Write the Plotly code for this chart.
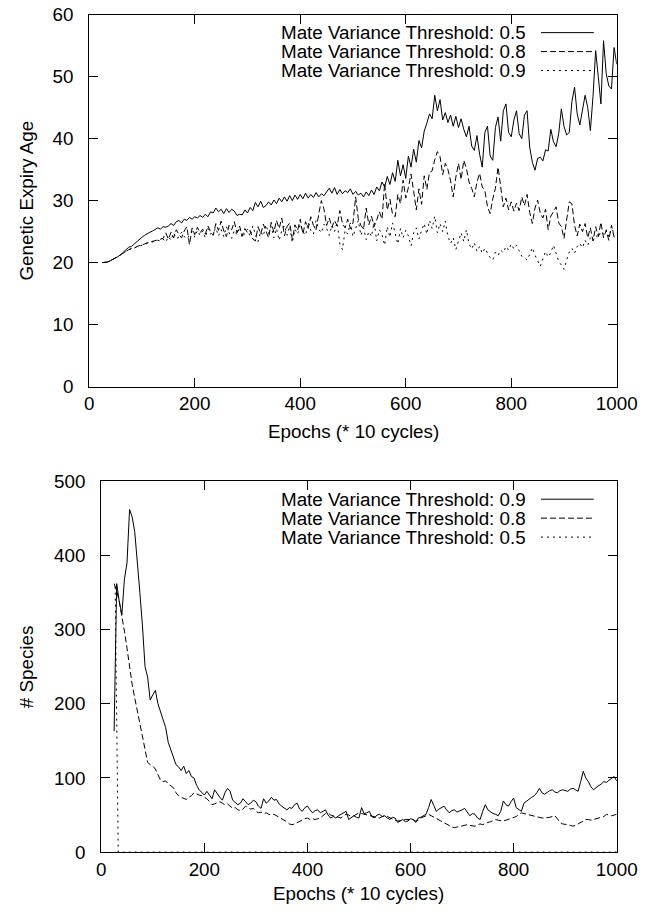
import plotly.graph_objects as go

# ---------------- data ----------------
epochs = list(range(25, 1001, 5))

# Top panel: Genetic Expiry Age
age_t05 = [
    20.0, 20.0, 20.1, 20.3, 20.5, 20.7, 21.0, 21.3, 21.7, 22.1, 22.5, 22.6, 23.0, 23.4, 23.8, 24.1, 24.4, 24.7, 24.9, 25.1,
    25.3, 25.6, 25.4, 25.8, 25.7, 25.9, 26.3, 26.0, 26.6, 26.8, 26.4, 27.0, 26.8, 27.3, 27.0, 27.4, 27.2, 27.6, 27.3, 27.8,
    27.4, 28.2, 28.0, 28.8, 28.2, 28.6, 27.9, 28.7, 28.1, 28.6, 28.3, 27.6, 27.8, 27.7, 28.5, 28.0, 28.9, 28.4, 29.7, 29.0,
    29.9, 28.9, 29.2, 29.8, 29.3, 30.1, 29.5, 30.4, 29.8, 30.6, 29.9, 30.8, 30.0, 30.9, 30.2, 31.0, 30.3, 31.2, 30.4, 31.0,
    30.5, 31.3, 30.6, 31.1, 30.8, 31.5, 32.0, 31.2, 32.1, 31.0, 31.8, 31.1, 31.6, 31.3, 31.9, 31.0, 31.5, 30.9, 31.2, 30.6,
    31.4, 30.8, 31.7, 31.0, 32.2, 31.6, 33.0, 32.2, 33.9, 32.6, 34.5, 33.1, 36.5, 34.0, 35.8, 33.6, 37.2, 35.4, 38.3, 36.2,
    39.7, 38.5, 41.2, 42.5, 44.0, 43.2, 47.0, 44.5, 46.3, 43.0, 44.2, 42.6, 43.8, 42.0, 43.6, 41.8, 43.2, 41.5, 40.3, 42.0,
    38.8, 38.1, 40.5, 37.5, 35.4, 41.0, 42.0, 37.2, 36.5, 41.8, 43.5, 39.6, 44.5, 45.6, 41.0, 40.3, 43.0, 44.5, 40.8, 40.0,
    43.8, 44.5, 38.6, 36.2, 34.9, 36.8, 37.0, 36.4, 38.2, 38.0, 41.5, 39.5, 38.7, 40.8, 44.8, 42.0, 40.6, 41.0, 46.0, 48.3,
    44.0, 42.2, 44.5, 47.0, 45.0, 41.3, 46.8, 54.2, 50.0, 45.6, 55.8, 50.5, 48.5, 48.0, 54.7, 52.0,
]
age_t08 = [
    20.0, 20.0, 20.1, 20.3, 20.5, 20.7, 21.0, 21.3, 21.6, 21.9, 22.1, 22.3, 22.3, 22.6, 22.7, 22.9, 23.0, 23.2, 23.3, 23.5,
    23.6, 23.7, 23.7, 23.9, 24.8, 23.8, 24.9, 24.0, 25.3, 24.5, 24.0, 25.1, 25.8, 22.9, 25.6, 24.5, 25.7, 24.8, 25.4, 24.6,
    25.9, 25.0, 24.4, 26.3, 25.2, 26.7, 25.1, 24.2, 26.0, 25.3, 26.6, 24.8, 25.9, 24.3, 25.5, 24.8, 25.2, 23.8, 23.5, 25.8,
    24.6, 26.2, 25.1, 24.0, 26.5, 24.9, 26.8, 25.5, 27.2, 24.3, 25.8, 26.4, 23.7, 26.1, 25.2, 27.0, 24.6, 26.6, 25.5, 27.4,
    26.0, 25.3, 27.8, 30.0, 28.6, 26.0, 27.2, 25.7, 26.8, 25.9, 28.4, 26.3, 25.6, 27.0, 25.5, 26.4, 30.6, 27.1, 26.0, 25.4,
    28.8, 26.1, 27.5, 25.8, 26.9, 28.2, 27.0, 32.8, 28.5, 30.2, 27.8, 27.4, 31.0, 29.5, 33.3, 30.4, 32.1, 34.3, 31.5, 28.5,
    31.9, 29.4, 34.0, 31.8, 34.5, 34.8, 36.6, 37.9, 37.1, 34.2, 36.0, 35.0, 33.2, 30.6, 33.8, 36.0, 33.4, 36.5, 35.2, 33.0,
    32.0, 30.6, 33.0, 34.4, 32.2, 31.6, 29.0, 27.9, 30.3, 32.0, 35.4, 32.6, 29.0, 30.4, 28.5, 29.8, 28.3, 29.6, 28.4, 30.6,
    29.2, 31.0, 28.1, 26.3, 28.8, 30.1, 28.0, 27.2, 28.6, 25.3, 27.5, 28.2, 29.0, 26.4, 25.8, 23.9, 26.5, 29.8, 29.5, 26.0,
    24.3, 26.2, 25.0, 26.3, 24.0, 25.6, 23.5, 25.8, 24.2, 26.5, 24.0, 25.2, 23.6, 26.0, 24.1, 23.8,
]
age_t09 = [
    20.0, 20.0, 20.1, 20.3, 20.5, 20.7, 21.0, 21.3, 21.6, 21.9, 22.1, 22.2, 22.4, 22.5, 22.7, 22.8, 23.0, 23.1, 23.2, 23.3,
    23.4, 23.6, 23.5, 23.8, 23.3, 24.2, 23.6, 24.8, 23.9, 24.1, 24.9, 24.2, 23.8, 24.5, 25.0, 24.1, 25.2, 24.4, 25.1, 24.0,
    25.5, 24.6, 24.9, 25.6, 24.3, 25.3, 24.2, 25.8, 24.7, 23.9, 25.2, 24.5, 25.7, 24.0, 24.8, 25.4, 24.2, 25.9, 24.5, 23.4,
    25.0, 24.3, 26.1, 24.7, 25.8, 24.0, 25.5, 23.6, 25.2, 26.0, 24.4, 25.9, 23.2, 25.4, 24.6, 26.2, 25.0, 24.4, 26.5, 25.2,
    24.6, 26.8, 25.4, 24.8, 26.2, 25.5, 24.4, 26.0, 25.0, 26.5, 23.0, 22.1, 25.2, 24.6, 26.4, 24.2, 25.5, 26.8, 24.4, 25.6,
    23.7, 25.0, 24.2, 26.5, 23.5, 25.3, 24.5, 22.8, 25.8, 24.1, 26.4, 24.6, 23.0, 25.5, 24.0, 25.2, 24.3, 22.7, 24.8, 25.6,
    23.8, 25.2, 26.3, 24.6, 26.8, 25.5, 27.5, 24.8, 26.3, 25.0, 26.7, 24.2, 23.1, 24.0, 22.1, 23.5, 24.8, 23.4, 25.3, 23.0,
    22.2, 23.2, 21.8, 22.6, 21.5, 22.3, 21.6, 20.8, 20.4, 21.7, 21.2, 22.0, 21.6, 22.6, 22.0, 23.0, 22.2, 22.8, 21.9, 21.0,
    20.8, 20.4, 21.3, 22.4, 21.2, 20.2, 19.4, 20.6, 21.8, 20.9, 21.6, 22.8, 21.5, 20.2, 19.6, 18.9, 20.4, 21.7, 22.3, 21.5,
    22.6, 23.1, 22.4, 23.6, 22.8, 24.0, 23.5, 24.4, 24.0, 25.0, 24.6, 25.3, 24.2, 25.5, 24.8, 24.8,
]

# Bottom panel: # Species
species_t09 = [
    163, 362, 338, 320, 368, 390, 462, 452, 432, 385, 350, 305, 250, 236, 205, 212, 218, 200, 190, 178,
    168, 148, 138, 128, 118, 115, 110, 116, 106, 110, 102, 100, 90, 84, 80, 77, 82, 76, 72, 84,
    78, 74, 70, 80, 86, 82, 70, 67, 64, 66, 72, 68, 64, 66, 70, 68, 62, 59, 72, 66,
    69, 74, 70, 71, 65, 62, 60, 57, 60, 59, 64, 66, 58, 55, 60, 62, 57, 53, 56, 57,
    53, 55, 57, 50, 46, 48, 46, 49, 51, 53, 55, 44, 47, 49, 47, 46, 60, 52, 53, 55,
    48, 46, 50, 51, 48, 49, 46, 44, 47, 46, 40, 42, 44, 41, 42, 45, 44, 40, 46, 47,
    49, 51, 60, 71, 63, 55, 58, 60, 62, 57, 53, 56, 57, 54, 55, 57, 59, 54, 49, 52,
    51, 46, 44, 55, 64, 57, 54, 52, 51, 49, 55, 69, 64, 62, 68, 73, 60, 57, 55, 66,
    69, 72, 74, 76, 80, 86, 80, 78, 81, 83, 84, 81, 80, 83, 84, 83, 82, 85, 86, 84,
    82, 95, 109, 100, 95, 88, 84, 87, 89, 92, 95, 94, 97, 99, 102, 96,
]
species_t08 = [
    362, 352, 338, 320, 298, 275, 250, 226, 208, 190, 174, 158, 135, 121, 118, 116, 112, 104, 97, 95,
    96, 92, 90, 87, 80, 76, 74, 72, 71, 74, 76, 80, 78, 77, 76, 74, 72, 68, 64, 65,
    67, 68, 66, 64, 65, 62, 59, 60, 57, 56, 58, 62, 60, 58, 59, 55, 53, 54, 52, 53,
    51, 50, 51, 49, 48, 46, 44, 41, 38, 37, 38, 40, 42, 43, 45, 46, 44, 45, 44, 45,
    46, 49, 52, 53, 50, 49, 48, 47, 46, 49, 51, 50, 48, 49, 51, 53, 52, 51, 51, 50,
    49, 48, 47, 46, 48, 49, 48, 46, 44, 43, 42, 42, 43, 44, 44, 43, 44, 42, 43, 46,
    47, 49, 51, 49, 47, 46, 44, 42, 39, 37, 35, 34, 33, 34, 35, 35, 37, 37, 36, 36,
    35, 37, 38, 37, 39, 40, 41, 43, 44, 43, 42, 42, 43, 44, 45, 46, 48, 51, 53, 52,
    51, 51, 50, 49, 48, 47, 46, 46, 46, 47, 48, 49, 45, 40, 38, 38, 37, 36, 35, 36,
    38, 41, 42, 44, 44, 43, 44, 45, 45, 46, 48, 51, 50, 49, 50, 51,
]
epochs_t05_species = [27, 33, 1000]
species_t05 = [358, 0, 0]

top_names = ["Mate Variance Threshold: 0.5", "Mate Variance Threshold: 0.8", "Mate Variance Threshold: 0.9"]
bottom_names = ["Mate Variance Threshold: 0.9", "Mate Variance Threshold: 0.8", "Mate Variance Threshold: 0.5"]

# ---------------- styling ----------------
W, H = 654, 914
FONT = "Liberation Sans, Arial, Helvetica, sans-serif"
FS = 18.8
DASHES = ["solid", "6px,3px", "2px,4px"]

# The photographed picture is slightly scaled/offset relative to the page;
# layout targets below are given in picture pixels and mapped back to the page.
SX, OX = 0.963, 3.5
SY, OY = 0.98, 9.3

def px(x):
    return ((x - OX) / SX) / W

def py(y):
    return 1 - ((y - OY) / SY) / H

fig = go.Figure()

top_series = [age_t05, age_t08, age_t09]
for vals, name, dash in zip(top_series, top_names, DASHES):
    fig.add_trace(go.Scatter(x=epochs, y=vals, mode="lines", name=name, showlegend=False,
                             line=dict(color="black", width=1, dash=dash),
                             xaxis="x", yaxis="y"))

bottom_x = [epochs, epochs, epochs_t05_species]
bottom_series = [species_t09, species_t08, species_t05]
for xs, vals, name, dash in zip(bottom_x, bottom_series, bottom_names, DASHES):
    fig.add_trace(go.Scatter(x=xs, y=vals, mode="lines", name=name, showlegend=False,
                             line=dict(color="black", width=1, dash=dash),
                             xaxis="x2", yaxis="y2"))

axis_common = dict(showline=True, linecolor="black", linewidth=1, mirror="ticks",
                   ticks="inside", ticklen=9, tickcolor="black", tickwidth=1,
                   showgrid=False, zeroline=False, ticklabeloverflow="allow",
                   tickfont=dict(family=FONT, size=FS, color="black"))
xaxis_common = dict(axis_common, ticklabelstandoff=0)
yaxis_common = dict(axis_common, ticklabelstandoff=11)

fig.update_layout(
    width=W, height=H, autosize=False,
    margin=dict(l=0, r=0, t=0, b=0),
    paper_bgcolor="white", plot_bgcolor="white",
    font=dict(family=FONT, size=FS, color="black"),
    xaxis=dict(domain=[px(88), px(617)], range=[0, 1000], dtick=200, anchor="y", **xaxis_common),
    yaxis=dict(domain=[py(387), py(14)], range=[0, 60], dtick=10, anchor="x", **yaxis_common),
    xaxis2=dict(domain=[px(100), px(617)], range=[0, 1000], dtick=200, anchor="y2", **xaxis_common),
    yaxis2=dict(domain=[py(854), py(482)], range=[0, 500], dtick=100, anchor="x2", **yaxis_common),
)

annotations = []
shapes = []
annotations.append(dict(text="Epochs (* 10 cycles)", x=px((88 + 617) / 2), y=py(432), xref="paper", yref="paper",
                        showarrow=False, xanchor="center", yanchor="middle", font=dict(size=FS)))
annotations.append(dict(text="Epochs (* 10 cycles)", x=px((100 + 617) / 2), y=py(895), xref="paper", yref="paper",
                        showarrow=False, xanchor="center", yanchor="middle", font=dict(size=FS)))
annotations.append(dict(text="Genetic Expiry Age", x=px(25), y=py(200), xref="paper", yref="paper", textangle=-90,
                        showarrow=False, xanchor="center", yanchor="middle", font=dict(size=FS)))
annotations.append(dict(text="# Species", x=px(25), y=py(668), xref="paper", yref="paper", textangle=-90,
                        showarrow=False, xanchor="center", yanchor="middle", font=dict(size=FS)))

# legends (text right-aligned, sample line on the right, gnuplot style)
for names, rows in ((top_names, [32, 51, 70]), (bottom_names, [500, 519, 538])):
    for name, yrow, dash in zip(names, rows, DASHES):
        annotations.append(dict(text=name, x=px(528), y=py(yrow), xref="paper", yref="paper", height=19,
                                showarrow=False, xanchor="right", yanchor="middle", font=dict(size=FS)))
        shapes.append(dict(type="line", xref="paper", yref="paper", x0=px(541), x1=px(594),
                           y0=py(yrow), y1=py(yrow), line=dict(color="black", width=1, dash=dash)))

fig.update_layout(annotations=annotations, shapes=shapes)
fig.write_html("out.html", config={"displayModeBar": False},
               post_script="document.body.style.margin='0px';")
